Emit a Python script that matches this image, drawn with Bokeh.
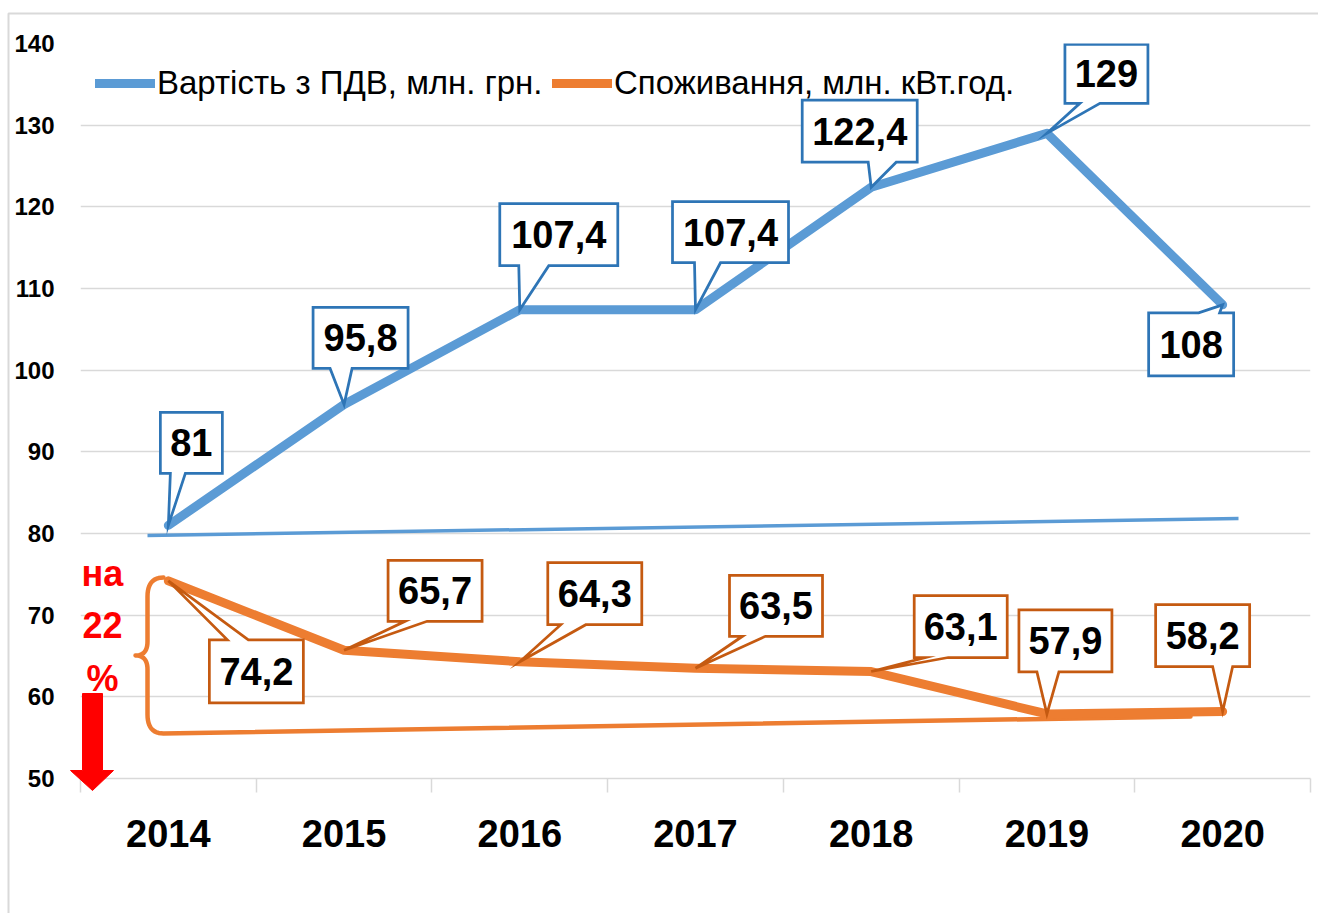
from bokeh.plotting import figure
from bokeh.models import Range1d, FixedTicker, Legend, LegendItem
from bokeh.core.properties import value
from bokeh.embed import file_html
from bokeh.resources import INLINE

# ---------------- data ----------------
years = ["2014", "2015", "2016", "2017", "2018", "2019", "2020"]
cost = [81, 95.8, 107.4, 107.4, 122.4, 129, 108]              # Вартість з ПДВ, млн. грн.
consumption = [74.2, 65.7, 64.3, 63.5, 63.1, 57.9, 58.2]      # Споживання, млн. кВт.год.
cost_labels = ["81", "95,8", "107,4", "107,4", "122,4", "129", "108"]
cons_labels = ["74,2", "65,7", "64,3", "63,5", "63,1", "57,9", "58,2"]
series_names = ["Вартість з ПДВ, млн. грн.", "Споживання, млн. кВт.год."]
y_ticks = [50, 60, 70, 80, 90, 100, 110, 120, 130, 140]
change_text = ["на", "22", "%"]

# ---------------- layout (pixels) ----------------
W, H = 1318, 913
FL, FR, FT, FB = 80, 1310, 43, 778
Y0, Y1 = 50, 140
X0, X1 = 0, len(years)
PX = (FR - FL) / (X1 - X0)
PY = (FB - FT) / (Y1 - Y0)

BLUE, ORANGE = "#5b9bd5", "#ed7d31"
BLUE_DK, ORANGE_DK = "#2e75b6", "#c55a11"
GRID = "#d9d9d9"
FONT = "Liberation Sans"

# callout geometry: box (left, top, right, bottom) in px relative to the point,
# wedge side and wedge base (a, b) in px relative to the point
cost_callouts = [
    ((-8, -113, 54, -52), "bottom", 2, 17),
    ((-31, -97, 64, -36), "bottom", -14, 8),
    ((-20, -106, 98, -44), "bottom", -1, 29),
    ((-23, -108, 93, -47), "bottom", -1, 25),
    ((-69, -87, 46, -25), "bottom", -3, 25),
    ((18, -89, 101, -30), "bottom", 33, 53),
    ((-74, 8, 11, 71), "top", -24, -3),
]
cons_callouts = [
    ((41, 59, 135, 122), "top", 59, 80),
    ((44, -90, 138, -29), "bottom", 61, 83),
    ((28, -99, 122, -37), "bottom", 41, 66),
    ((34, -93, 127, -32), "bottom", 47, 70),
    ((43, -76, 136, -14), "bottom", 54, 77),
    ((-28, -104, 65, -42), "bottom", -10, 12),
    ((-67, -107, 27, -45), "bottom", -10, 10),
]


def to_data(sx, sy):
    return X0 + (sx - FL) / PX, Y1 - (sy - FT) / PY


def quad(p0, c, p1, n=12):
    pts = []
    for k in range(n + 1):
        t = k / n
        x = (1 - t) ** 2 * p0[0] + 2 * (1 - t) * t * c[0] + t ** 2 * p1[0]
        y = (1 - t) ** 2 * p0[1] + 2 * (1 - t) * t * c[1] + t ** 2 * p1[1]
        pts.append((x, y))
    return pts


xs_pts = [i + 0.5 for i in range(len(years))]

p = figure(width=W, height=H, output_backend="svg", toolbar_location=None,
           x_range=Range1d(X0, X1), y_range=Range1d(Y0, Y1),
           min_border_left=FL, min_border_right=W - FR,
           min_border_top=FT, min_border_bottom=H - FB,
           background_fill_color="white", border_fill_color="white",
           outline_line_color=None)

# grid
p.xgrid.visible = False
p.ygrid.ticker = FixedTicker(ticks=y_ticks)
p.ygrid.grid_line_color = GRID
p.ygrid.grid_line_width = 1.5

# y axis
p.yaxis.ticker = FixedTicker(ticks=y_ticks)
p.yaxis.axis_line_color = None
p.yaxis.major_tick_line_color = None
p.yaxis.minor_tick_line_color = None
p.yaxis.major_tick_out = 0
p.yaxis.major_tick_in = 0
p.yaxis.major_label_standoff = 26
p.yaxis.major_label_text_font = FONT
p.yaxis.major_label_text_font_style = "bold"
p.yaxis.major_label_text_font_size = "24px"
p.yaxis.major_label_text_color = "black"

# x axis: labels at category centres, tick marks at category boundaries
p.xaxis.ticker = FixedTicker(ticks=xs_pts, minor_ticks=list(range(len(years) + 1)))
p.xaxis.major_label_overrides = {x: y for x, y in zip(xs_pts, years)}
p.xaxis.axis_line_color = GRID
p.xaxis.axis_line_width = 1.5
p.xaxis.major_tick_line_color = None
p.xaxis.major_tick_out = 0
p.xaxis.major_tick_in = 0
p.xaxis.minor_tick_line_color = GRID
p.xaxis.minor_tick_line_width = 1.5
p.xaxis.minor_tick_out = 14
p.xaxis.minor_tick_in = 0
p.xaxis.major_label_standoff = 27
p.xaxis.major_label_text_font = FONT
p.xaxis.major_label_text_font_style = "bold"
p.xaxis.major_label_text_font_size = "38px"
p.xaxis.major_label_text_color = "black"

# decorative thin base lines
bx0, by0 = to_data(147, 535)
bx1, by1 = to_data(1238, 518)
p.line([bx0, bx1], [by0, by1], line_color=BLUE, line_width=3.5)

brace = []
brace += quad((163, 577), (147, 577), (147, 596))
brace += [(147, 641)]
brace += quad((147, 641), (147, 655), (135, 655))
brace += quad((135, 655), (147, 655), (147, 669))
brace += [(147, 714)]
brace += quad((147, 714), (147, 733), (163, 733))
brace += [(1190, 716)]
bd = [to_data(sx, sy) for sx, sy in brace]
p.line([q[0] for q in bd], [q[1] for q in bd], line_color=ORANGE, line_width=4.5,
       line_join="round", line_cap="round")

# main series
r_cost = p.line(xs_pts, cost, line_color=BLUE, line_width=9, line_join="round", line_cap="round")
r_cons = p.line(xs_pts, consumption, line_color=ORANGE, line_width=9, line_join="round", line_cap="round")


def callouts(values, specs, labels, color):
    pxs, pys, tx, ty = [], [], [], []
    for xi, v, (box, side, wa, wb) in zip(xs_pts, values, specs):
        l, t, r, b = box
        if side == "bottom":
            pts = [(l, t), (r, t), (r, b), (wb, b), (0, 0), (wa, b), (l, b)]
        else:
            pts = [(l, t), (wa, t), (0, 0), (wb, t), (r, t), (r, b), (l, b)]
        pxs.append([xi + dx / PX for dx, dy in pts])
        pys.append([v - dy / PY for dx, dy in pts])
        tx.append(xi + (l + r) / 2 / PX)
        ty.append(v - (t + b) / 2 / PY)
    p.patches(pxs, pys, fill_color="white", line_color=color, line_width=2.75, line_join="miter")
    p.text(tx, ty, text=labels, text_font=value(FONT), text_font_style="bold",
           text_font_size="38px", text_align="center", text_baseline="middle",
           text_color="black")


callouts(cost, cost_callouts, cost_labels, BLUE_DK)
callouts(consumption, cons_callouts, cons_labels, ORANGE_DK)

# "на 22 %" with red arrow
tpos = [(102, 573), (102, 624), (102, 678)]
txd = [to_data(sx, sy) for sx, sy in tpos]
p.text([q[0] for q in txd], [q[1] for q in txd], text=change_text,
       text_font=value(FONT), text_font_style="bold", text_font_size="36px",
       text_align="center", text_baseline="middle", text_color="#ff0000")
arrow = [(82, 693), (102, 693), (102, 770), (113, 770), (92, 790), (70, 770), (82, 770)]
ad = [to_data(sx, sy) for sx, sy in arrow]
p.patch([q[0] for q in ad], [q[1] for q in ad], fill_color="#ff0000", line_color="#ff0000",
        line_width=1, level="overlay")

# chart-area border (left and top)
border = [(8, 913), (8, 13), (1318, 13)]
bdd = [to_data(sx, sy) for sx, sy in border]
p.line([q[0] for q in bdd], [q[1] for q in bdd], line_color=GRID, line_width=2, level="overlay")

# legends (one per series, placed side by side)
for name, rend, sx in zip(series_names, [r_cost, r_cons], [95, 552]):
    leg = Legend(items=[LegendItem(label=name, renderers=[rend])],
                 location=(sx - FL, FB - 103), orientation="horizontal",
                 padding=0, margin=0, spacing=0, label_standoff=2,
                 glyph_width=60, glyph_height=40, label_height=40,
                 label_text_font=FONT, label_text_font_size="33px",
                 label_text_color="black", border_line_color=None,
                 background_fill_alpha=0)
    p.add_layout(leg)

open("out.html", "w").write(file_html(p, INLINE))
